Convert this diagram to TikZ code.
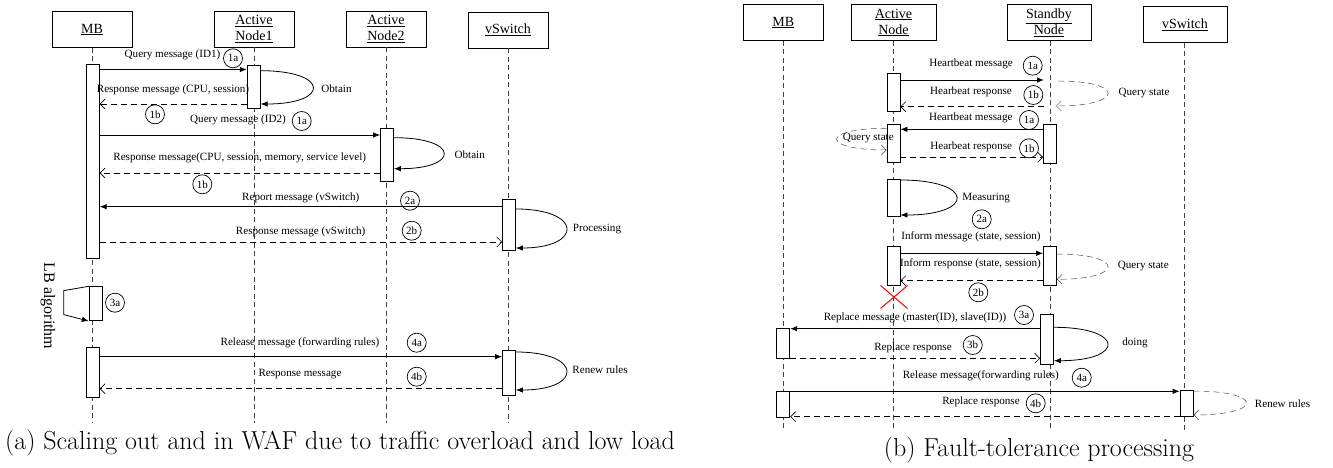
\documentclass[tikz,border=0pt]{standalone}
\usepackage{fontspec}
\usepackage{tikz}
\usetikzlibrary{arrows.meta, shapes.misc}
\newfontfamily\tnr{Liberation Serif}

\begin{document}
\begin{tikzpicture}[x=1pt, y=-1pt,
    actor/.style={draw, line width=0.9pt, minimum width=80, minimum height=36, align=center, font=\tnr\fontsize{14}{16}\selectfont},
    bar/.style={draw, fill=white, minimum width=13, inner sep=0pt, line width=0.8pt},
    life/.style={dash pattern=on 5pt off 3.5pt, line width=0.6pt, black!75},
    msg/.style={-{Latex[length=7pt,width=5.5pt]}, line width=0.8pt},
    reply/.style={-{Straight Barb[length=5pt,width=10pt]}, dash pattern=on 6pt off 4pt, line width=0.6pt},
    dreply/.style={-{Straight Barb[length=5pt,width=10pt]}, dash pattern=on 6pt off 4pt, line width=0.5pt, black!70},
    lbl/.style={font=\tnr\fontsize{11.1}{12}\selectfont, inner sep=1pt},
    tag/.style={circle, draw, line width=0.7pt, minimum size=19, inner sep=0pt, font=\tnr\fontsize{11}{12}\selectfont},
    subcap/.style={font=\fontsize{26}{30}\selectfont, inner sep=0pt}]
    \useasboundingbox (0,0) rectangle (1333,468);

    % (a) scaling out and in
    \node[actor] (mbA) at (92,29.5) {\underline{MB}};
    \node[actor] (anA) at (254,29) {\underline{Active}\\\underline{Node1}};
    \node[actor] (anB) at (386,29) {\underline{Active}\\\underline{Node2}};
    \node[actor] (vsA) at (508,30) {\underline{vSwitch}};
    \draw[life] (mbA.south) -- (mbA.south |- 0,423);
    \draw[life] (anA.south) -- (anA.south |- 0,423);
    \draw[life] (anB.south) -- (anB.south |- 0,423);
    \draw[life] (vsA.south) -- (vsA.south |- 0,423);

    \node[bar, minimum height=194] (mb1) at (92.8,161) {};
    \node[bar, minimum height=34] (mb2) at (95.7,303.7) {};
    \node[bar, minimum height=50] (mb3) at (92.8,372.3) {};
    \node[bar, minimum height=43.3] (an1b) at (253.7,86.7) {};
    \node[bar, minimum height=52.7] (an2b) at (387,154.7) {};
    \node[bar, minimum height=50.7] (vs1) at (509,224.7) {};
    \node[bar, minimum height=44.3] (vs2) at (509,372.9) {};

    \draw[msg] (mb1.east |- 0,69.5) -- (an1b.west |- 0,69.5);
    \node[lbl] (qa) at (172.5,55) {Query message (ID1)};
    \node[tag] (qa1) at (233,58.3) {1a};
    \draw[msg] (an1b.east |- 0,70.7) .. controls (330,70.7) and (330,104) .. (an1b.east |- 0,104);
    \node[lbl] (oba) at (336.5,88.3) {Obtain};
    \draw[reply] (an1b.west |- 0,104) -- (mb1.east |- 0,104);
    \node[lbl] (ra) at (173,90) {Response message (CPU, session)};
    \node[tag] (ra1) at (155,114.3) {1b};

    \draw[msg] (mb1.east |- 0,135) -- (an2b.west |- 0,135);
    \node[lbl] (qb) at (238,120) {Query message (ID2)};
    \node[tag] (qb1) at (301.7,121) {1a};
    \draw[msg] (an2b.east |- 0,137.7) .. controls (460,137.7) and (460,168.7) .. (an2b.east |- 0,168.7);
    \node[lbl] (obb) at (469.7,154.3) {Obtain};
    \draw[reply] (an2b.west |- 0,173) -- (mb1.east |- 0,173);
    \node[lbl] (rb) at (239.7,158.3) {Response message(CPU, session, memory, service level)};
    \node[tag] (rb1) at (202.3,184.3) {1b};

    \draw[msg] (vs1.west |- 0,206.7) -- (mb1.east |- 0,206.7);
    \node[lbl] (rep) at (300.8,197.7) {Report message (vSwitch)};
    \node[tag] (rep1) at (410,200.7) {2a};
    \draw[msg] (vs1.east |- 0,209) .. controls (583,209) and (583,248) .. (vs1.east |- 0,248);
    \node[lbl] (proc) at (597,229.3) {Processing};
    \draw[reply] (mb1.east |- 0,242) -- (vs1.west |- 0,242);
    \node[lbl] (rv) at (300.7,232.3) {Response message (vSwitch)};
    \node[tag] (rv1) at (411.7,230.7) {2b};

    \draw[msg] (mb2.north west) -- ++(-25,4.3) -- ++(0,24) -- (mb2.south west);
    \node[lbl, rotate=-90, font=\tnr\fontsize{16}{18}\selectfont] (lb) at (48,306) {LB algorithm};
    \node[tag] (lb1) at (115,302.7) {3a};

    \draw[msg] (mb3.east |- 0,356.7) -- (vs2.west |- 0,356.7);
    \node[lbl] (rel) at (300,342.7) {Release message (forwarding rules)};
    \node[tag] (rel1) at (416.7,342.7) {4a};
    \draw[msg] (vs2.east |- 0,352) .. controls (583,352) and (583,390) .. (vs2.east |- 0,390);
    \node[lbl] (ren) at (600,370) {Renew rules};
    \draw[reply] (vs2.west |- 0,388.7) -- (mb3.east |- 0,388.7);
    \node[lbl] (rr) at (300,374) {Response message};
    \node[tag] (rr1) at (416.7,376.7) {4b};

    \node[subcap] (capa) at (340,443.3) {(a) Scaling out and in WAF due to traffic overload and low load};

    % (b) fault tolerance
    \node[actor] (mbR) at (783.3,22.5) {\underline{MB}};
    \node[actor, minimum width=85] (anR) at (893.5,22.5) {\underline{Active}\\\underline{Node}};
    \node[actor, minimum width=84] (sbR) at (1049,22.5) {\underline{Standby}\\\underline{Node}};
    \node[actor, minimum width=84] (vsR) at (1185,24.5) {\underline{vSwitch}};
    \draw[life] (mbR.south) -- (mbR.south |- 0,430);
    \draw[life] (anR.south -| 893.5,0) -- (893.5,430);
    \draw[life] (sbR.south -| 1050,0) -- (1050,430);
    \draw[life] (vsR.south -| 1184.5,0) -- (1184.5,430);

    \node[bar, minimum height=38.4] (an1) at (893.5,92.5) {};
    \node[bar, minimum height=38.3] (an2) at (893.5,143.2) {};
    \node[bar, minimum height=36.7] (an3) at (893.5,197.7) {};
    \node[bar, minimum height=38.3] (an4) at (893.5,265.8) {};
    \node[bar, minimum height=39] (sb1) at (1050,143.8) {};
    \node[bar, minimum height=38.3] (sb2) at (1050,265.8) {};
    \node[bar, minimum height=50] (sb3) at (1047,339) {};
    \node[bar, minimum height=30] (mbr1) at (783.3,343.3) {};
    \node[bar, minimum height=26.3] (mbr2) at (783.3,404.2) {};
    \node[bar, minimum height=26] (vsr) at (1186.5,403) {};
    \coordinate (sbq) at (1044,80);
    \coordinate (sbr) at (1044,106.7);

    \draw[msg] (an1.east |- 0,80) -- (sbq);
    \node[lbl] (hb) at (971,64.3) {Heartbeat message};
    \node[tag] (hb1) at (1032.7,65.7) {1a};
    \draw[reply] (sbr) -- (an1.east |- 0,106.7);
    \node[lbl] (hr) at (971,91.7) {Hearbeat response};
    \node[tag] (hr1) at (1033.3,95) {1b};
    \draw[dreply] (1058.3,81) .. controls (1125,81) and (1125,106) .. (1056,106);
    \node[lbl] (qsa) at (1144,93.3) {Query state};

    \draw[msg] (sb1.west |- 0,129.3) -- (an2.east |- 0,129.3);
    \node[lbl] (hbb) at (970.8,118.3) {Heartbeat message};
    \node[tag] (hbb1) at (1029,120) {1a};
    \draw[dreply] (an2.west |- 0,128.3) .. controls (820,128.3) and (820,150) .. (an2.west |- 0,150);
    \node[lbl] (qsb) at (868.3,138.3) {Query state};
    \draw[reply] (an2.east |- 0,157.3) -- (sb1.west |- 0,157.3);
    \node[lbl] (hrb) at (971.2,147.3) {Hearbeat response};
    \node[tag] (hrb1) at (1029,148.3) {1b};

    \draw[msg] (an3.east |- 0,180) .. controls (975,180) and (975,215) .. (an3.east |- 0,215);
    \node[lbl] (meas) at (986.2,197.7) {Measuring};
    \node[tag] (meas1) at (981.7,219.3) {2a};

    \draw[msg] (an4.east |- 0,253.3) -- (sb2.west |- 0,253.3);
    \node[lbl] (inf) at (971,237) {Inform message (state, session)};
    \draw[dreply] (sb2.east |- 0,254) .. controls (1125,254) and (1125,279.3) .. (sb2.east |- 0,279.3);
    \node[lbl] (qsc) at (1143.3,266) {Query state};
    \draw[reply] (sb2.west |- 0,280.7) -- (an4.east |- 0,280.7);
    \node[lbl] (infr) at (970.5,264) {Inform response (state, session)};
    \node[tag] (infr1) at (978.3,292.3) {2b};
    \node[draw=red, cross out, line width=1pt, minimum width=26, minimum height=22] (fail) at (894,297) {};

    \draw[msg] (sb3.west |- 0,328.7) -- (mbr1.east |- 0,328.7);
    \node[lbl] (rpl) at (915,318.3) {Replace message (master(ID), slave(ID))};
    \node[tag] (rpl1) at (1024,315) {3a};
    \draw[msg] (sb3.east |- 0,327.3) .. controls (1125,327.3) and (1125,360.7) .. (sb3.east |- 0,360.7);
    \node[lbl] (doing) at (1135,343.3) {doing};
    \draw[reply] (mbr1.east |- 0,358.3) -- (sb3.west |- 0,358.3);
    \node[lbl] (rplr) at (913,348.3) {Replace response};
    \node[tag] (rplr1) at (972.7,345) {3b};

    \draw[msg] (mbr2.east |- 0,391.3) -- (vsr.west |- 0,391.3);
    \node[lbl] (relb) at (980.8,375.7) {Release message(forwarding rules)};
    \node[tag] (relb1) at (1081.7,377.7) {4a};
    \draw[dreply] (vsr.east |- 0,391) .. controls (1264,391) and (1264,415) .. (vsr.east |- 0,415);
    \node[lbl] (renb) at (1282.5,403.3) {Renew rules};
    \draw[reply] (vsr.west |- 0,416.7) -- (mbr2.east |- 0,416.7);
    \node[lbl] (rplb) at (981,401.7) {Replace response};
    \node[tag] (rplb1) at (1035.7,403.3) {4b};

    \node[subcap] (capb) at (1039,450) {(b) Fault-tolerance processing};
\end{tikzpicture}
\end{document}
